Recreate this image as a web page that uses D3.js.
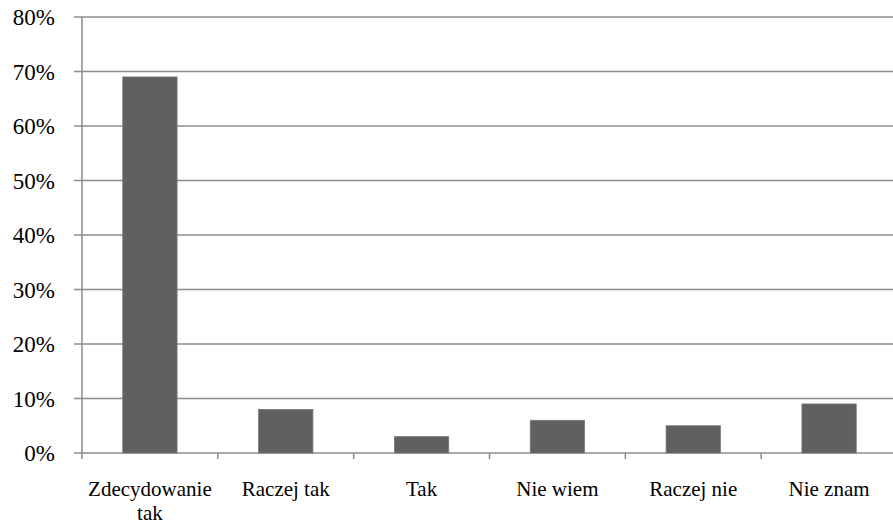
<!DOCTYPE html>
<html>
<head>
<meta charset="utf-8">
<script src="https://cdn.jsdelivr.net/npm/d3@7"></script>
<style>
  html, body { margin: 0; padding: 0; background: #fff; }
  svg { display: block; }
</style>
</head>
<body>
<svg id="chart" width="893" height="524"></svg>
<script>
// Survey answers and their shares (percent)
const categories = ["Zdecydowanie tak", "Raczej tak", "Tak", "Nie wiem", "Raczej nie", "Nie znam"];
const values = [69, 8, 3, 6, 5, 9];
const yTicks = [0, 10, 20, 30, 40, 50, 60, 70, 80];

const W = 893, H = 524;
const margin = { left: 82, right: -4, top: 17, bottom: 71 };
const FONT = "\"Liberation Serif\"";
const svg = d3.select("#chart");

const x = d3.scaleBand()
  .domain(categories)
  .range([margin.left, W - margin.right])
  .paddingInner(0.6)
  .paddingOuter(0.3);

const y = d3.scaleLinear()
  .domain([0, 80])
  .range([H - margin.bottom, margin.top]);

const gridColor = "#8c8c8c";

// horizontal gridlines with left tick stubs
svg.append("g")
  .selectAll("line")
  .data(yTicks)
  .join("line")
  .attr("x1", margin.left - 8)
  .attr("x2", W - margin.right)
  .attr("y1", d => y(d))
  .attr("y2", d => y(d))
  .attr("stroke", gridColor)
  .attr("stroke-width", 1.5);

// y axis line
svg.append("line")
  .attr("x1", margin.left).attr("x2", margin.left)
  .attr("y1", y(80)).attr("y2", y(0) + 6)
  .attr("stroke", gridColor)
  .attr("stroke-width", 1.5);

// y tick labels
svg.append("g")
  .selectAll("text")
  .data(yTicks)
  .join("text")
  .style("font-family", FONT)
  .attr("x", 55)
  .attr("y", d => y(d) + 8)
  .attr("text-anchor", "end")
  .attr("font-size", 23)
  .attr("fill", "#000")
  .text(d => d + "%");

// category boundary ticks on the x axis
const gap = (x.step() - x.bandwidth()) / 2;
svg.append("g")
  .selectAll("line")
  .data(categories.slice(1))
  .join("line")
  .attr("x1", d => x(d) - gap)
  .attr("x2", d => x(d) - gap)
  .attr("y1", y(0))
  .attr("y2", y(0) + 6)
  .attr("stroke", gridColor)
  .attr("stroke-width", 1.5);

// bars
svg.append("g")
  .selectAll("rect")
  .data(categories)
  .join("rect")
  .attr("x", d => x(d))
  .attr("width", x.bandwidth())
  .attr("y", (d, i) => y(values[i]))
  .attr("height", (d, i) => y(0) - y(values[i]))
  .attr("fill", "#606060")
  .attr("stroke", "#7a7a7a")
  .attr("stroke-width", 0.8);

// category labels, wrapped onto two lines when long
const labelLines = { "Zdecydowanie tak": ["Zdecydowanie", "tak"] };
const lab = svg.append("g")
  .selectAll("text")
  .data(categories)
  .join("text")
  .style("font-family", FONT)
  .attr("text-anchor", "middle")
  .attr("font-size", 21)
  .attr("fill", "#000")
  .attr("x", d => x(d) + x.bandwidth() / 2)
  .attr("y", 496);
lab.each(function(d) {
  const lines = labelLines[d] || [d];
  const t = d3.select(this);
  lines.forEach((ln, i) => {
    t.append("tspan")
      .attr("x", x(d) + x.bandwidth() / 2)
      .attr("dy", i === 0 ? 0 : 24)
      .text(ln);
  });
});
</script>
</body>
</html>
